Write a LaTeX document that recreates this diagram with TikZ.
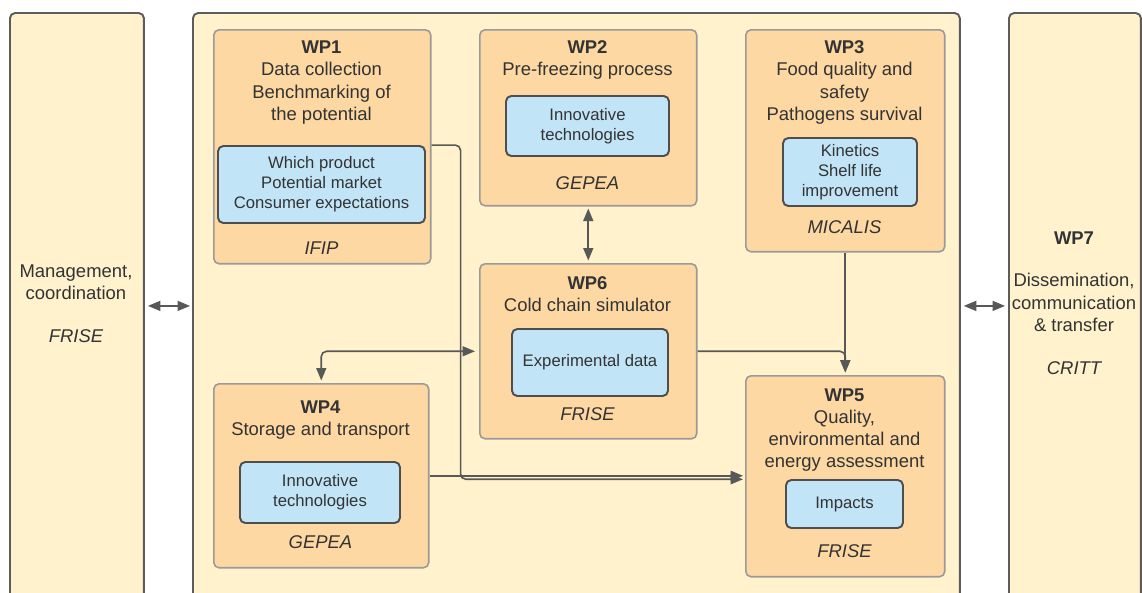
\documentclass[tikz,border=0pt]{standalone}
\usepackage{fontspec}
\setmainfont{Liberation Sans}
\usetikzlibrary{arrows.meta,positioning,calc}

\definecolor{paleyellow}{HTML}{FFF2CD}
\definecolor{wporange}{HTML}{FDD8A3}
\definecolor{wpblue}{HTML}{C2E4F7}
\definecolor{frameline}{HTML}{5C5C5C}
\definecolor{wpline}{HTML}{9A9A9A}
\definecolor{linkgray}{HTML}{585858}
\definecolor{inkgray}{HTML}{333333}

\begin{document}
\begin{tikzpicture}[x=0.02cm, y=-0.02cm,
    every node/.style={text=inkgray, inner sep=0pt},
    >={Triangle[length=2.5mm,width=2mm]},
    frame/.style={draw=frameline, line width=1.1pt, fill=paleyellow, rounded corners=3pt, anchor=north west, minimum height=11.72cm},
    wpbox/.style={draw=wpline, line width=0.9pt, fill=wporange, rounded corners=3pt, anchor=north west},
    inbox/.style={draw=frameline!85!black, line width=1.1pt, fill=wpblue, rounded corners=3pt, align=center, font=\fontsize{9.5}{11.4}\selectfont},
    title/.style={align=center, font=\fontsize{10.5}{12.6}\selectfont},
    lab/.style={font=\fontsize{10.5}{12.6}\selectfont\itshape},
    link/.style={draw=linkgray, line width=0.9pt, rounded corners=3pt}]
  \useasboundingbox (0,0) rectangle (1142,592);
  \clip (0,0) rectangle (1142,592);

  % outer frames
  \node[frame, minimum width=2.68cm] (mgmt) at (9,12) {};
  \node[frame, minimum width=15.34cm] (main) at (192,12) {};
  \node[frame, minimum width=2.64cm] (wp7) at (1008,12) {};

  \node[title] (mgmtt) at (76,282) {Management,\\coordination};
  \node[lab] (mgmtl) at (76,336) {FRISE};
  \node[title] (wp7h) at (1074,238) {\textbf{WP7}};
  \node[title] (wp7t) at (1074,302.5) {Dissemination,\\communication\\\& transfer};
  \node[lab] (wp7l) at (1074,368) {CRITT};

  % work packages
  \node[wpbox, minimum width=4.34cm, minimum height=4.68cm] (wp1) at (213,29) {};
  \node[wpbox, minimum width=4.34cm, minimum height=3.52cm] (wp2) at (479,29) {};
  \node[wpbox, minimum width=3.98cm, minimum height=4.44cm] (wp3) at (745,29) {};
  \node[wpbox, minimum width=4.34cm, minimum height=3.50cm] (wp6) at (479,263) {};
  \node[wpbox, minimum width=4.30cm, minimum height=3.68cm] (wp4) at (213,383) {};
  \node[wpbox, minimum width=3.98cm, minimum height=4.02cm] (wp5) at (745,375) {};

  % WP1
  \node[title] (wp1t) at (321.5,82.5) {\textbf{WP1}\\Data collection\\Benchmarking of\\the potential};
  \node[inbox, minimum width=4.14cm, minimum height=1.54cm] (wp1in) at (321.5,184.5) {Which product\\Potential market\\Consumer expectations};
  \node[lab] (wp1l) at (321.5,248) {IFIP};
  % WP2
  \node[title] (wp2t) at (587.5,60) {\textbf{WP2}\\Pre-freezing process};
  \node[inbox, minimum width=3.26cm, minimum height=1.2cm] (wp2in) at (587.5,126) {Innovative\\technologies};
  \node[lab] (wp2l) at (587.5,183) {GEPEA};
  % WP3
  \node[title] (wp3t) at (844.5,82.5) {\textbf{WP3}\\Food quality and\\safety\\Pathogens survival};
  \node[inbox, minimum width=2.68cm, minimum height=1.36cm] (wp3in) at (850,172) {Kinetics\\Shelf life\\improvement};
  \node[lab] (wp3l) at (844.5,227) {MICALIS};
  % WP6
  \node[title] (wp6t) at (587.5,294.5) {\textbf{WP6}\\Cold chain simulator};
  \node[inbox, minimum width=3.12cm, minimum height=1.34cm] (wp6in) at (590,362.5) {Experimental data};
  \node[lab] (wp6l) at (587.5,414) {FRISE};
  % WP4
  \node[title] (wp4t) at (320.5,420) {\textbf{WP4}\\Storage and transport};
  \node[inbox, minimum width=3.2cm, minimum height=1.22cm] (wp4in) at (320,492.5) {Innovative\\technologies};
  \node[lab] (wp4l) at (320.5,542) {GEPEA};
  % WP5
  \node[title] (wp5t) at (844.5,430) {\textbf{WP5}\\Quality,\\environmental and\\energy assessment};
  \node[inbox, minimum width=2.34cm, minimum height=0.96cm] (wp5in) at (844.5,504) {Impacts};
  \node[lab] (wp5l) at (844.5,551) {FRISE};

  % links
  \draw[link, <->, shorten <=0.06cm, shorten >=0.04cm] (mgmt.east) -- (main.west);
  \draw[link, <->, shorten <=0.06cm, shorten >=0.06cm] (main.east) -- (wp7.west);
  \draw[link, <->, shorten <=0.04cm, shorten >=0.05cm] (wp2.south) -- (wp6.north);
  \draw[link, <->, shorten <=0.05cm, shorten >=0.08cm] (wp4.north) |- (wp6.west);
  \draw[link, ->, shorten >=0.05cm] (wp6.east) -| (wp5.north);
  \draw[link, ->, shorten >=0.05cm] (wp3.south) -- (wp5.north);
  \draw[link, ->, shorten >=0.04cm] (wp4.east) -- (wp4.east -| wp5.west);
  \draw[link, ->, shorten >=0.04cm] (wp1in.north -| wp1.east) -- ++(29,0) |- ($(wp5.west)+(0,3)$);
\end{tikzpicture}
\end{document}
